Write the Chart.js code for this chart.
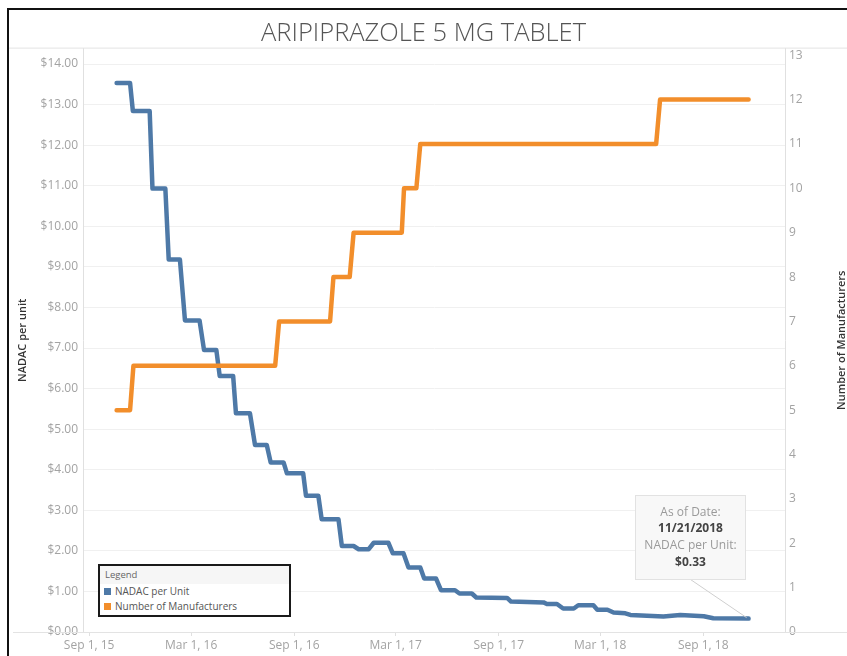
<!DOCTYPE html>
<html>
<head>
<meta charset="utf-8">
<title>Aripiprazole 5 mg tablet</title>
<script src="https://cdn.jsdelivr.net/npm/chart.js@4.4.1/dist/chart.umd.min.js"></script>
<style>
    html, body { margin: 0; padding: 0; background: #fff; }
    #wrap { position: relative; width: 847px; height: 656px; overflow: hidden; font-family: 'Open Sans', sans-serif; }
    #frame { position: absolute; left: 7px; top: 8px; width: 860px; height: 670px; border-left: 2px solid #111; border-top: 2px solid #111; pointer-events: none; }
    #legend { position: absolute; left: 98px; top: 564px; width: 189px; height: 49px; border: 2px solid #1a1a1a; background: #fff; color: #555; font-size: 10px; }
    #legend .head { background: #f6f6f6; height: 18px; line-height: 18px; padding-left: 5px; font-size: 9.5px; color: #666; }
    #legend .item { height: 14.5px; line-height: 14.5px; padding-left: 4px; white-space: nowrap; }
    #legend .sw { display: inline-block; width: 7px; height: 7px; margin-right: 4px; vertical-align: 0px; }
</style>
</head>
<body>
<div id="wrap">
    <canvas id="mainChart" width="847" height="656"></canvas>
    <div id="frame"></div>
    <div id="legend"></div>
</div>
<script>
// Chart values
const chartTitle = 'ARIPIPRAZOLE 5 MG TABLET';

const nadacDates = [
    '2015-10-20', '2015-11-13', '2015-11-18', '2015-12-18', '2015-12-23', '2016-01-15',
    '2016-01-21', '2016-02-10', '2016-02-19', '2016-03-16', '2016-03-24', '2016-04-15',
    '2016-04-21', '2016-05-15', '2016-05-20', '2016-06-14', '2016-06-23', '2016-07-14',
    '2016-07-21', '2016-08-13', '2016-08-19', '2016-09-17', '2016-09-22', '2016-10-14',
    '2016-10-20', '2016-11-19', '2016-11-25', '2016-12-16', '2016-12-25', '2017-01-12',
    '2017-01-21', '2017-02-16', '2017-02-24', '2017-03-15', '2017-03-24', '2017-04-14',
    '2017-04-21', '2017-05-12', '2017-05-21', '2017-06-15', '2017-06-23', '2017-07-15',
    '2017-07-23', '2017-09-16', '2017-09-23', '2017-11-20', '2017-11-26', '2017-12-14',
    '2017-12-25', '2018-01-13', '2018-01-21', '2018-02-17', '2018-02-24', '2018-03-14',
    '2018-03-25', '2018-04-15', '2018-04-24', '2018-06-22', '2018-07-22', '2018-09-02',
    '2018-09-19', '2018-11-21'
];
const nadacValues = [
    13.53, 13.53, 12.84, 12.84, 10.93, 10.93,
    9.18, 9.18, 7.68, 7.68, 6.95, 6.95,
    6.31, 6.31, 5.39, 5.39, 4.61, 4.61,
    4.18, 4.18, 3.91, 3.91, 3.36, 3.36,
    2.78, 2.78, 2.12, 2.12, 2.04, 2.04,
    2.20, 2.20, 1.94, 1.94, 1.59, 1.59,
    1.32, 1.32, 1.03, 1.03, 0.95, 0.95,
    0.85, 0.84, 0.75, 0.73, 0.69, 0.69,
    0.58, 0.58, 0.66, 0.66, 0.55, 0.55,
    0.48, 0.46, 0.42, 0.38, 0.42, 0.39,
    0.34, 0.33
];

const mfrDates = [
    '2015-10-20', '2015-11-13', '2015-11-19', '2016-07-29', '2016-08-05', '2016-11-04',
    '2016-11-10', '2016-12-09', '2016-12-16', '2017-03-12', '2017-03-16', '2017-04-07',
    '2017-04-14', '2018-06-09', '2018-06-16', '2018-11-21'
];
const mfrValues = [5, 5, 6, 6, 7, 7, 8, 8, 9, 9, 10, 10, 11, 11, 12, 12];

const xTickDates = ['2015-09-01', '2016-03-01', '2016-09-01', '2017-03-01', '2017-09-01', '2018-03-01', '2018-09-01'];
const xTickLabels = ['Sep 1, 15', 'Mar 1, 16', 'Sep 1, 16', 'Mar 1, 17', 'Sep 1, 17', 'Mar 1, 18', 'Sep 1, 18'];
const priceTicks = [0, 1, 2, 3, 4, 5, 6, 7, 8, 9, 10, 11, 12, 13, 14];
const mfrTicks = [0, 1, 2, 3, 4, 5, 6, 7, 8, 9, 10, 11, 12, 13];

const seriesNames = ['NADAC per Unit', 'Number of Manufacturers'];
const seriesColors = ['#4e79a7', '#f28e2b'];

const toMs = s => Date.parse(s + 'T00:00:00Z');

function formatDate(s) {
    const [y, m, d] = s.split('-');
    return m + '/' + d + '/' + y;
}

// Light frame lines, right axis title and the "as of" callout
const decorations = {
    id: 'decorations',
    afterDraw(chart) {
        const { ctx, chartArea } = chart;
        ctx.save();
        ctx.strokeStyle = '#e3e3e3';
        ctx.lineWidth = 1;
        ctx.beginPath();
        ctx.moveTo(9, chartArea.top - 0.5);
        ctx.lineTo(847, chartArea.top - 0.5);
        ctx.moveTo(13, chartArea.bottom + 0.5);
        ctx.lineTo(847, chartArea.bottom + 0.5);
        ctx.stroke();

        ctx.translate(842, (chartArea.top + chartArea.bottom) / 2);
        ctx.rotate(-Math.PI / 2);
        ctx.fillStyle = '#333';
        ctx.font = '600 11px "Open Sans"';
        ctx.textAlign = 'center';
        ctx.textBaseline = 'middle';
        ctx.fillText('Number of Manufacturers', 0, 0);
        ctx.restore();
    },
    afterDatasetsDraw(chart) {
        const { ctx } = chart;
        const meta = chart.getDatasetMeta(0);
        const pt = meta.data[meta.data.length - 1];
        const last = nadacDates.length - 1;
        const w = 110, h = 84;
        const bx = Math.round(pt.x - 114) + 0.5;
        const by = Math.round(pt.y - 124) + 0.5;

        ctx.save();
        ctx.strokeStyle = '#cfcfcf';
        ctx.lineWidth = 1;
        ctx.beginPath();
        ctx.moveTo(bx + w / 2, by + h);
        ctx.lineTo(pt.x - 2, pt.y - 1);
        ctx.stroke();

        ctx.fillStyle = 'rgba(248,248,248,0.96)';
        ctx.fillRect(bx, by, w, h);
        ctx.strokeStyle = '#e2e2e2';
        ctx.strokeRect(bx, by, w, h);

        ctx.textAlign = 'center';
        ctx.textBaseline = 'middle';
        const cx = bx + w / 2;
        ctx.font = '12px "Open Sans"';
        ctx.fillStyle = '#9a9a9a';
        ctx.fillText('As of Date:', cx, by + 17.5);
        ctx.fillText('NADAC per Unit:', cx, by + 50);
        ctx.font = 'bold 12px "Open Sans"';
        ctx.fillStyle = '#444';
        ctx.fillText(formatDate(nadacDates[last]), cx, by + 33.5);
        ctx.fillText('$' + nadacValues[last].toFixed(2), cx, by + 67);
        ctx.restore();
    }
};

const tickFont = { family: 'Open Sans', size: 12 };
const tickColor = '#a3a3a3';

const chartInstance = new Chart(document.getElementById('mainChart').getContext('2d'), {
    type: 'line',
    data: {
        datasets: [{
            label: seriesNames[0],
            data: nadacDates.map((d, i) => ({ x: toMs(d), y: nadacValues[i] })),
            yAxisID: 'y',
            borderColor: seriesColors[0],
            backgroundColor: seriesColors[0],
            borderWidth: 4.5,
            order: 2
        }, {
            label: seriesNames[1],
            data: mfrDates.map((d, i) => ({ x: toMs(d), y: mfrValues[i] })),
            yAxisID: 'y1',
            borderColor: seriesColors[1],
            backgroundColor: seriesColors[1],
            borderWidth: 4.5,
            order: 1
        }]
    },
    options: {
        responsive: false,
        animation: false,
        layout: { padding: 0 },
        elements: {
            point: { radius: 0, hoverRadius: 0 },
            line: { tension: 0, borderCapStyle: 'round', borderJoinStyle: 'round' }
        },
        scales: {
            x: {
                type: 'linear',
                min: toMs('2015-08-21'),
                max: toMs('2019-01-25'),
                afterBuildTicks: axis => { axis.ticks = xTickDates.map(d => ({ value: toMs(d) })); },
                afterFit: axis => { axis.height = 24; },
                grid: { drawOnChartArea: false, drawTicks: true, tickLength: 4, color: '#e0e0e0' },
                border: { display: true, color: '#e0e0e0' },
                ticks: {
                    autoSkip: false,
                    maxRotation: 0,
                    padding: 2,
                    color: tickColor,
                    font: tickFont,
                    callback: (value, index) => xTickLabels[index]
                }
            },
            y: {
                position: 'left',
                min: 0,
                max: 14.38,
                afterBuildTicks: axis => { axis.ticks = priceTicks.map(v => ({ value: v })); },
                afterFit: axis => { axis.width = 83; },
                grid: { color: '#f0f0f0', drawTicks: false },
                border: { display: true, color: '#e0e0e0' },
                ticks: {
                    padding: 5,
                    color: tickColor,
                    font: tickFont,
                    callback: v => '$' + Number(v).toFixed(2)
                },
                title: {
                    display: true,
                    text: 'NADAC per unit',
                    color: '#333',
                    font: { family: 'Open Sans', size: 11, weight: '600' },
                    padding: { top: 16, bottom: 0 }
                }
            },
            y1: {
                position: 'right',
                min: 0,
                max: 13.15,
                afterBuildTicks: axis => { axis.ticks = mfrTicks.map(v => ({ value: v })); },
                afterFit: axis => { axis.width = 62; },
                grid: { drawOnChartArea: false, drawTicks: false },
                border: { display: true, color: '#e0e0e0' },
                ticks: {
                    padding: 4,
                    color: tickColor,
                    font: tickFont,
                    callback: v => String(v)
                }
            }
        },
        plugins: {
            legend: { display: false },
            tooltip: { enabled: false },
            title: {
                display: true,
                text: chartTitle,
                color: '#555',
                font: { family: 'Open Sans', size: 25.5, weight: '300', lineHeight: 1.2 },
                padding: { top: 18, bottom: 0 }
            }
        }
    },
    plugins: [decorations]
});

// HTML legend built from the dataset labels and colours
const legendEl = document.getElementById('legend');
let legendHtml = '<div class="head">Legend</div>';
chartInstance.data.datasets.forEach(ds => {
    legendHtml += `<div class="item"><span class="sw" style="background:${ds.borderColor}"></span>${ds.label}</div>`;
});
legendEl.innerHTML = legendHtml;
</script>
</body>
</html>
